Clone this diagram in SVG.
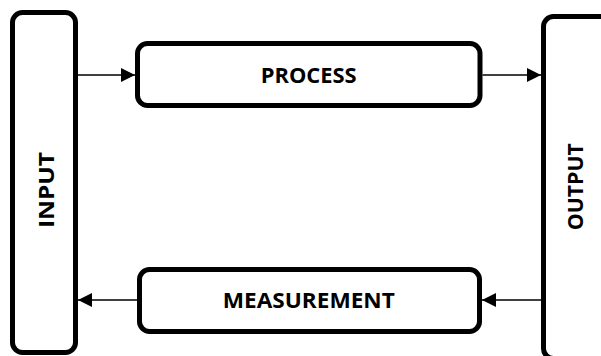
<svg xmlns="http://www.w3.org/2000/svg" width="601" height="356" viewBox="0 0 601 356">
  <style>
    .box { fill: #ffffff; stroke: #000000; stroke-width: 5; }
    .conn { stroke: #000000; stroke-width: 1.5; fill: none; }
    .lbl { font-family: "Open Sans", "Liberation Sans", sans-serif; font-weight: 700; font-size: 21px; fill: #000000; text-anchor: middle; }
  </style>
  <defs>
    <marker id="arrow" markerUnits="userSpaceOnUse" markerWidth="14" markerHeight="14" refX="14" refY="7" orient="auto">
      <path d="M0,0 L14,7 L0,14 z" fill="#000000"/>
    </marker>
  </defs>
  <rect width="601" height="356" fill="#ffffff"/>
  <g id="input">
    <rect class="box" x="12.5" y="12.5" width="63" height="340" rx="10" ry="10"/>
    <text class="lbl" transform="translate(54.3,190) rotate(-90)" x="0" y="0" textLength="76" lengthAdjust="spacingAndGlyphs">INPUT</text>
  </g>
  <g id="process">
    <rect class="box" x="137.5" y="43.5" width="342.5" height="62" rx="10" ry="10"/>
    <text class="lbl" x="308.7" y="83.3" textLength="96" lengthAdjust="spacingAndGlyphs">PROCESS</text>
  </g>
  <g id="measurement">
    <rect class="box" x="139.5" y="269.5" width="340" height="62" rx="10" ry="10"/>
    <text class="lbl" x="308.8" y="308.3" textLength="172" lengthAdjust="spacingAndGlyphs">MEASUREMENT</text>
  </g>
  <g id="output">
    <rect class="box" x="543.5" y="16.5" width="70" height="342" rx="10" ry="10"/>
    <text class="lbl" transform="translate(582.7,186.7) rotate(-90)" x="0" y="0" textLength="87" lengthAdjust="spacingAndGlyphs">OUTPUT</text>
  </g>
  <g id="connectors">
    <line class="conn" x1="78" y1="75" x2="135" y2="75" marker-end="url(#arrow)"/>
    <line class="conn" x1="482.5" y1="75" x2="541" y2="75" marker-end="url(#arrow)"/>
    <line class="conn" x1="541" y1="300" x2="482" y2="300" marker-end="url(#arrow)"/>
    <line class="conn" x1="137" y1="300" x2="78" y2="300" marker-end="url(#arrow)"/>
  </g>
</svg>
